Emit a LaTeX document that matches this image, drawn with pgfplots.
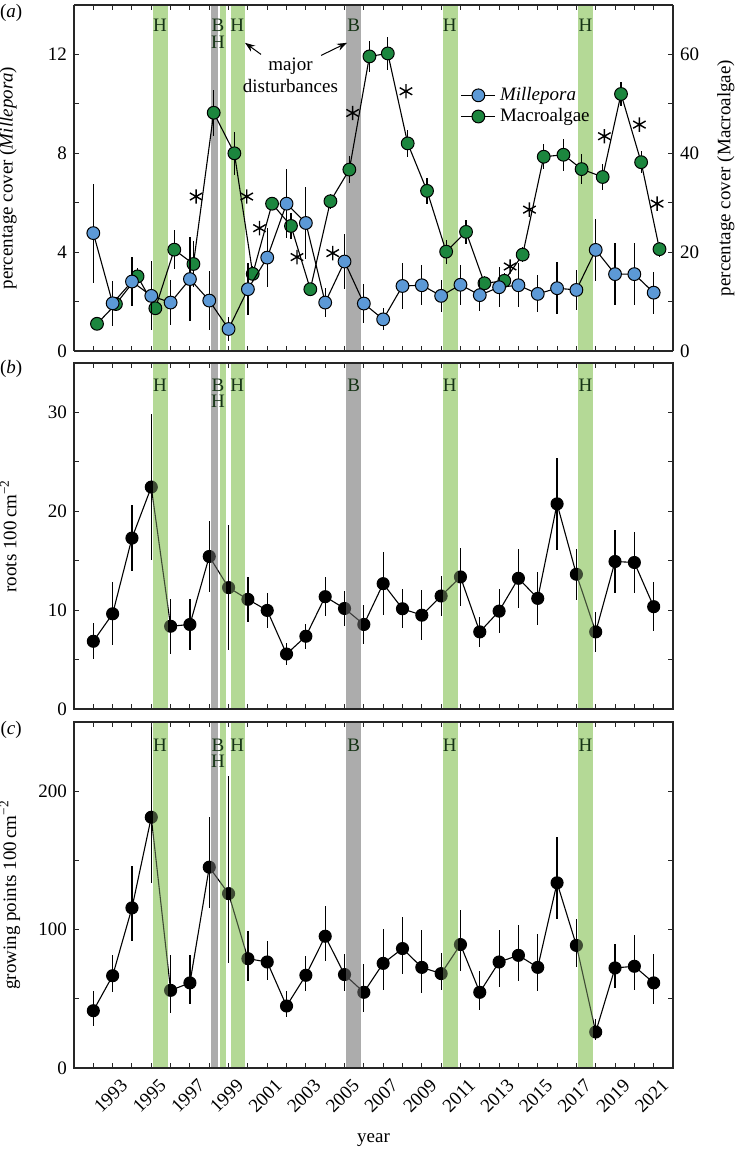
\documentclass[border=0pt]{standalone}
\usepackage{fontspec}
\setmainfont{Liberation Serif}
\usepackage{pgfplots}
\pgfplotsset{compat=1.18}
\usetikzlibrary{arrows.meta}

\definecolor{milleblue}{RGB}{92,153,214}
\definecolor{algaegreen}{RGB}{28,134,62}
\definecolor{bandgreen}{RGB}{180,217,150}
\definecolor{bandgray}{RGB}{172,172,172}
\definecolor{labelgreen}{RGB}{22,52,22}

\newcommand{\fs}{\fontsize{9.5}{11}\selectfont}

% disturbance bands: #1 = top of the axis, #2 = opacity
\newcommand{\bands}[2]{%
  \fill[bandgreen, opacity=#2] (axis cs:1995.1,0) rectangle (axis cs:1995.85,#1);
  \fill[bandgray, opacity=#2] (axis cs:1998.1,0) rectangle (axis cs:1998.45,#1);
  \fill[bandgreen, opacity=#2] (axis cs:1998.55,0) rectangle (axis cs:1998.88,#1);
  \fill[bandgreen, opacity=#2] (axis cs:1999.1,0) rectangle (axis cs:1999.85,#1);
  \fill[bandgray, opacity=#2] (axis cs:2005.1,0) rectangle (axis cs:2005.85,#1);
  \fill[bandgreen, opacity=#2] (axis cs:2010.1,0) rectangle (axis cs:2010.85,#1);
  \fill[bandgreen, opacity=#2] (axis cs:2017.1,0) rectangle (axis cs:2017.85,#1);
}
% H / B letters: #1 = first line, #2 = second line
\newcommand{\bandlabels}[2]{%
  \begin{scope}[every node/.style={labelgreen, font=\fs, inner sep=0pt}]
  \node at (axis cs:1995.45,#1) {H};
  \node at (axis cs:1998.45,#1) {B};
  \node at (axis cs:1998.45,#2) {H};
  \node at (axis cs:1999.45,#1) {H};
  \node at (axis cs:2005.47,#1) {B};
  \node at (axis cs:2010.45,#1) {H};
  \node at (axis cs:2017.47,#1) {H};
  \end{scope}
}

\pgfplotsset{
  panel/.style={
    scale only axis, width=299.5pt, height=173pt,
    xmin=1991, xmax=2022,
    xtick={1993,1995,...,2021},
    minor xtick={1992,1994,...,2020},
    xticklabels={},
    tick align=inside,
    major tick length=2.6pt, minor tick length=2.6pt,
    tick style={black!85, line width=0.5pt},
    axis line style={black!85, line width=0.6pt},
    axis on top,
    clip mode=individual,
    /pgf/number format/assume math mode=true,
    /pgf/number format/1000 sep={},
    ticklabel style={font=\fs},
    label style={font=\fs},
    ylabel style={at={(axis description cs:-0.084,0.5)}, anchor=south},
  },
  series/.style={black, line width=0.55pt,
    error bars/y dir=both, error bars/y explicit, error bars/error mark=none,
    error bars/error bar style={black, line width=0.6pt}},
}

\pgfplotstableread{
x y e
1992 4.77 2.0
1993 1.93 0.9
1994 2.81 1.0
1995 2.23 1.4
1996 1.96 0.9
1997 2.91 1.7
1998 2.04 1.2
1999 0.89 0.5
2000 2.50 1.05
2001 3.78 1.2
2002 5.96 1.4
2003 5.18 1.45
2004 1.96 0.6
2005 3.62 1.1
2006 1.92 0.8
2007 1.28 0.45
2008 2.63 0.95
2009 2.66 0.8
2010 2.23 0.65
2011 2.68 0.8
2012 2.26 0.65
2013 2.58 0.8
2014 2.66 0.9
2015 2.31 0.75
2016 2.54 1.05
2017 2.47 0.8
2018 4.09 1.25
2019 3.11 1.25
2020 3.11 1.25
2021 2.36 0.85
}\millepora

\pgfplotstableread{
x y e
1992.19 5.5 0.8
1993.17 9.5 1.0
1994.29 15.1 1.6
1995.21 8.65 1.3
1996.19 20.5 4.0
1997.18 17.6 4.7
1998.23 48.2 4.7
1999.30 40.0 4.4
2000.25 15.6 1.5
2001.25 29.8 1.3
2002.23 25.3 2.7
2003.23 12.5 1.0
2004.27 30.3 1.5
2005.25 36.7 2.7
2006.29 59.6 3.2
2007.24 60.2 3.4
2008.27 42.0 2.7
2009.27 32.4 2.7
2010.26 20.1 2.4
2011.29 24.1 2.5
2012.24 13.7 1.5
2013.27 14.2 1.5
2014.22 19.5 1.5
2015.31 39.3 2.5
2016.33 39.7 3.2
2017.27 36.8 3.0
2018.36 35.2 2.7
2019.31 52.0 2.5
2020.35 38.2 2.2
2021.30 20.6 1.5
}\macroalgae

\pgfplotstableread{
x y
1997.32 6.25
1999.94 6.25
2000.60 4.97
2002.54 3.80
2004.39 3.96
2005.42 9.63
2008.18 10.51
2013.57 3.42
2014.57 5.72
2018.45 8.69
2020.26 9.16
2021.18 5.96
}\signif

\pgfplotstableread{
x y e
1992 6.85 1.8
1993 9.63 3.2
1994 17.29 3.3
1995 22.45 7.4
1996 8.37 2.8
1997 8.55 2.6
1998 15.43 3.6
1999 12.28 6.3
2000 11.09 2.3
2001 9.97 1.8
2002 5.56 1.1
2003 7.36 1.27
2004 11.36 2.0
2005 10.17 1.8
2006 8.55 1.95
2007 12.68 3.2
2008 10.14 1.95
2009 9.49 2.5
2010 11.43 2.0
2011 13.36 2.9
2012 7.80 1.5
2013 9.90 2.2
2014 13.22 3.0
2015 11.19 2.65
2016 20.75 4.65
2017 13.63 2.6
2018 7.80 2.0
2019 14.92 3.15
2020 14.82 3.1
2021 10.35 2.5
}\roots

\pgfplotstableread{
x y ep em
1992 41.4 14.5 11.3
1993 66.7 15.2 12.0
1994 115.7 30.1 24.2
1995 181.2 75.0 47.4
1996 56.1 25.3 16.3
1997 61.5 20.4 15.2
1998 145.1 36.1 29.4
1999 126.0 84.8 50.1
2000 79.0 20.3 15.9
2001 76.6 15.4 12.8
2002 44.8 10.6 8.2
2003 67.0 14.2 11.6
2004 95.2 22.2 18.1
2005 67.5 14.9 11.6
2006 54.7 20.5 14.5
2007 75.6 24.9 19.0
2008 86.3 22.6 18.3
2009 72.7 27.1 18.5
2010 68.2 15.0 11.6
2011 89.2 25.3 18.8
2012 54.7 15.7 13.1
2013 76.6 23.4 18.3
2014 81.4 22.2 18.8
2015 72.7 24.2 17.3
2016 133.8 32.9 26.1
2017 88.6 19.3 15.9
2018 26.0 9.6 5.6
2019 72.3 17.3 14.5
2020 73.5 22.9 16.9
2021 61.5 20.9 15.2
}\growing

\begin{document}
\begin{tikzpicture}[font=\fs]

% ---- (a) macroalgae, right axis
\begin{axis}[panel, at={(0pt,358.5pt)},
  ymin=0, ymax=70, axis y line*=right,
  ytick={0,20,40,60}, minor ytick={10,30,50},
  ylabel={percentage cover (Macroalgae)},
  ylabel style={at={(axis description cs:1.062,0.5)}, anchor=north}]
\bands{70}{1}
\addplot[series, mark=*, mark size=3.2pt,
  mark options={fill=algaegreen, draw=black, line width=0.5pt}]
  table[x=x, y=y, y error=e] {\macroalgae};
\end{axis}

% ---- (a) Millepora, left axis
\begin{axis}[panel, at={(0pt,358.5pt)},
  ymin=0, ymax=14, axis y line*=left, axis x line=none,
  ytick={0,4,8,12}, minor ytick={2,6,10},
  ylabel={percentage cover (\textit{Millepora})},
  legend style={at={(0.645,0.775)}, anchor=north west, draw=none, fill=none,
    font=\fs, row sep=-1.5pt, inner sep=0pt},
  legend cell align=left]
\addplot[series, mark=*, mark size=3.2pt,
  mark options={fill=milleblue, draw=black, line width=0.5pt}]
  table[x=x, y=y, y error=e] {\millepora};
\addlegendentry{\textit{Millepora}}
\addlegendimage{black, line width=0.55pt, mark=*, mark size=3.2pt,
  mark options={fill=algaegreen, draw=black, line width=0.5pt}}
\addlegendentry{Macroalgae}
\addplot[only marks, mark=asterisk, mark size=3.6pt,
  mark options={black, line width=0.7pt}, forget plot]
  table[x=x, y=y] {\signif};
\bandlabels{13.19}{12.51}
\node[align=center, inner sep=0pt] at (axis cs:2002.2,11.15) {major\\disturbances};
\draw[-{Stealth[length=5pt,width=3.6pt]}, line width=0.5pt]
  (axis cs:2000.68,12.0) -- (axis cs:1999.85,12.47);
\draw[-{Stealth[length=5pt,width=3.6pt]}, line width=0.5pt]
  (axis cs:2003.79,11.96) -- (axis cs:2005.13,12.47);
\node at (axis description cs:-0.105,0.977) {(\textit{a})};
\end{axis}

% ---- (b) roots
\begin{axis}[panel, at={(0pt,179.5pt)},
  ymin=0, ymax=35,
  ytick={0,10,20,30}, minor ytick={5,15,25},
  ylabel={roots 100\,cm\textsuperscript{−2}}]
\bands{35}{1}
\addplot[series, mark=*, mark size=3.0pt, mark options={fill=black}]
  table[x=x, y=y, y error=e] {\roots};
\bands{35}{0.35}
\bandlabels{32.7}{31.16}
\node at (axis description cs:-0.105,0.983) {(\textit{b})};
\end{axis}

% ---- (c) growing points
\begin{axis}[panel, at={(0pt,0pt)},
  ymin=0, ymax=250,
  ytick={0,100,200}, minor ytick={50,150},
  xticklabels={1993,1995,1997,1999,2001,2003,2005,2007,2009,2011,2013,2015,2017,2019,2021},
  xticklabel style={xshift=3.5pt, rotate=45, anchor=north east},
  ylabel={growing points 100\,cm\textsuperscript{−2}},
  ylabel style={at={(axis description cs:-0.078,0.5)}},
  xlabel={year},
  xlabel style={at={(axis description cs:0.5,-0.208)}, anchor=center}]
\bands{250}{1}
\addplot[series, mark=*, mark size=3.0pt, mark options={fill=black}]
  table[x=x, y=y, y error plus=ep, y error minus=em] {\growing};
\bands{250}{0.35}
\bandlabels{232.9}{221.3}
\node at (axis description cs:-0.105,0.977) {(\textit{c})};
\end{axis}

\pgfresetboundingbox
\useasboundingbox (-37pt,-41.5pt) rectangle (330.5pt,534pt);
\end{tikzpicture}
\end{document}
